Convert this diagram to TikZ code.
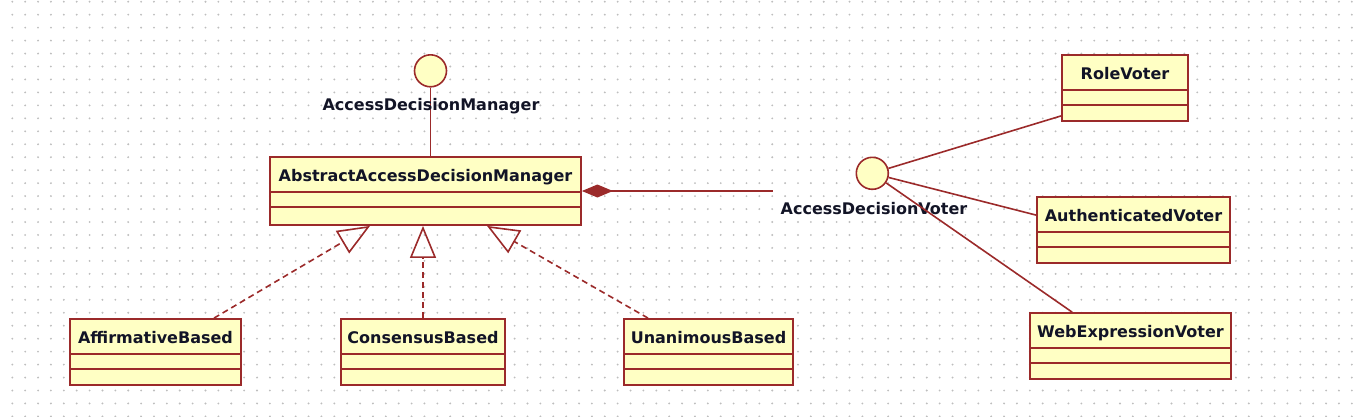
\documentclass[tikz,border=0pt]{standalone}
\usepackage{fontspec}
\setmainfont{DejaVu Sans}
\usetikzlibrary{calc,arrows.meta}

\definecolor{umlred}{RGB}{155,42,42}
\definecolor{umlfill}{RGB}{255,255,196}
\definecolor{dotgray}{RGB}{190,190,190}
\definecolor{namecol}{RGB}{18,20,38}

\begin{document}
\begin{tikzpicture}[
	x=1pt, y=-1pt,
	umlclass/.style = {draw=umlred, fill=umlfill, line width=1.8pt, inner ysep=0pt, text height=24pt, text depth=42pt, minimum height=66pt, font=\fontsize{16}{19}\selectfont\bfseries, text=namecol},
	iface/.style = {circle, draw=umlred, fill=umlfill, line width=1.6pt, minimum size=32pt, inner sep=0pt},
	ifacename/.style = {font=\fontsize{16}{19}\selectfont\bfseries, text=namecol, inner sep=0pt},
	assoc/.style = {draw=umlred, line width=1.6pt},
	realize/.style = {assoc, dash pattern=on 6pt off 4pt, -{Triangle[open, length=32pt, width=26pt]}}
	]
	
	\useasboundingbox (0,0) rectangle (1361,416);
	
	% Dot grid
	\foreach \i in {0,...,104}
	\foreach \j in {0,...,32}
	\fill[dotgray] (12.3+12.88*\i, 1.7+12.96*\j) circle (1.05);
	
	% Manager side
	\node[iface] (adm) at (430.5,70.8) {};
	\node[umlclass, minimum width=311pt, text depth=44pt, minimum height=68pt] (abstract) at (425.5,191) {AbstractAccessDecisionManager};
	\draw[assoc] (adm) -- (adm |- abstract.north);
	\node[ifacename] (admname) at (431,106) {AccessDecisionManager};
	
	% Implementations
	\node[umlclass, minimum width=171pt] (affirm) at (155.5,352) {AffirmativeBased};
	\node[umlclass, minimum width=164pt] (consensus) at (423,352) {ConsensusBased};
	\node[umlclass, minimum width=169pt] (unanim) at (708.5,352) {UnanimousBased};
	
	% Voter side
	\node[iface] (voter) at (872.3,173.3) {};
	\node[ifacename] (votername) at (874,209) {AccessDecisionVoter};
	\coordinate (votend) at (773,191);
	\node[umlclass, minimum width=126pt] (role) at (1125,88) {RoleVoter};
	\node[umlclass, minimum width=193pt] (auth) at (1133.5,230) {AuthenticatedVoter};
	\node[umlclass, minimum width=201pt] (webexpr) at (1130.5,346) {WebExpressionVoter};
	
	% Compartments
	\foreach \n in {abstract,affirm,consensus,unanim,role,auth,webexpr} {
		\draw[assoc] ($(\n.north west)+(0,36)$) -- ($(\n.north east)+(0,36)$);
		\draw[assoc] ($(\n.north west)+(0,51)$) -- ($(\n.north east)+(0,51)$);
	}
	
	% Realizations
	\draw[realize] ($(affirm.north)+(58.5,0)$) -- ($(abstract.south)+(-55.5,0)$);
	\draw[realize] (consensus) -- (consensus |- abstract.south);
	\draw[realize] ($(unanim.north)+(-60.5,0)$) -- ($(abstract.south)+(61.5,0)$);
	
	% Composition
	\draw[assoc, {Diamond[length=31pt, width=13pt]}-] (abstract.east) -- (votend);
	
	% Voters
	\draw[assoc] (voter) -- ($(role.south west)+(0,-6)$);
	\draw[assoc] (voter) -- ($(auth.north west)+(0,19)$);
	\draw[assoc] (voter) -- ($(webexpr.north west)+(43,0)$);
	
\end{tikzpicture}
\end{document}
